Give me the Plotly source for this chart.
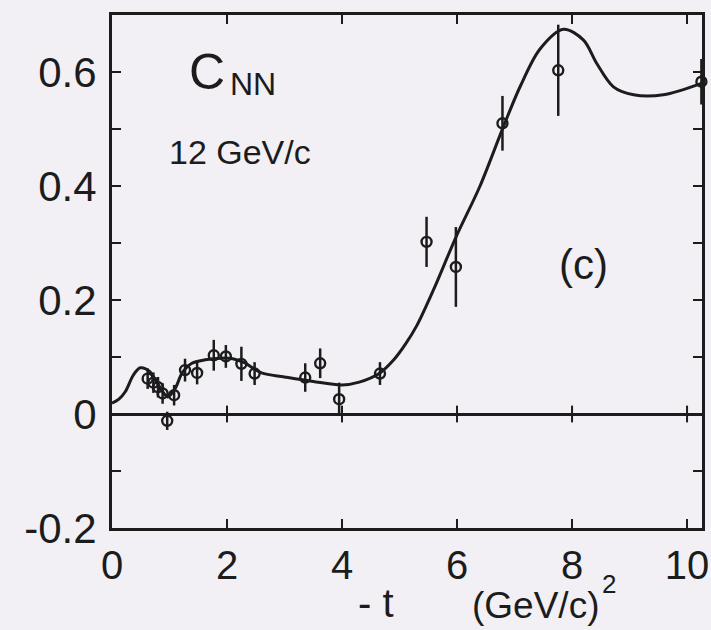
import plotly.graph_objects as go

# ---- data ----
t_data = [0.62, 0.72, 0.80, 0.88, 0.96, 1.08, 1.27, 1.48, 1.77, 1.98, 2.25, 2.48,
          3.36, 3.62, 3.95, 4.66, 5.47, 5.98, 6.79, 7.76, 10.25]
cnn_data = [0.062, 0.055, 0.047, 0.036, -0.012, 0.033, 0.077, 0.072, 0.103, 0.101, 0.088, 0.071,
            0.064, 0.089, 0.026, 0.071, 0.302, 0.258, 0.510, 0.603, 0.583]
cnn_err = [0.018, 0.018, 0.018, 0.018, 0.016, 0.018, 0.02, 0.02, 0.027, 0.02, 0.03, 0.02,
           0.025, 0.026, 0.029, 0.02, 0.044, 0.07, 0.048, 0.08, 0.04]

t_curve = [0.0, 0.12, 0.23, 0.37, 0.49, 0.65, 0.8, 0.97, 1.1, 1.22, 1.39, 1.62, 1.9, 2.1,
           2.3, 2.6, 3.0, 3.5, 4.0, 4.3, 4.66, 4.9, 5.1, 5.3, 5.6, 5.98, 6.4, 6.81, 7.1,
           7.44, 7.85, 8.2, 8.43, 8.72, 9.07, 9.59, 10.25]
cnn_curve = [0.019, 0.026, 0.039, 0.068, 0.081, 0.075, 0.052, 0.030, 0.045, 0.072, 0.089, 0.095,
             0.098, 0.097, 0.090, 0.072, 0.065, 0.057, 0.051, 0.056, 0.072, 0.095, 0.122, 0.155,
             0.220, 0.310, 0.400, 0.505, 0.575, 0.640, 0.675, 0.656, 0.615, 0.574, 0.560,
             0.560, 0.580]

y_tickvals = [-0.2, 0, 0.2, 0.4, 0.6]
y_ticktext = ["-0.2", "0", "0.2", "0.4", "0.6"]
x_tickvals = [0, 2, 4, 6, 8, 10]
x_ticktext = ["0", "2", "4", "6", "8", "10"]
zero_line_ticks = [2, 4, 6, 8, 10]

INK = "#1c1c1c"
BG = "#f2f0f5"
FONT = "Liberation Sans, Arial, sans-serif"

fig = go.Figure()
fig.add_trace(go.Scatter(
    x=t_curve, y=cnn_curve, mode="lines",
    line=dict(color=INK, width=3, shape="spline", smoothing=0.9),
    hoverinfo="skip", showlegend=False))
# small cross ticks on the zero line
fig.add_trace(go.Scatter(
    x=zero_line_ticks, y=[0] * len(zero_line_ticks), mode="markers",
    marker=dict(symbol="line-ns", size=12, line=dict(width=2, color=INK)),
    hoverinfo="skip", showlegend=False))
fig.add_trace(go.Scatter(
    x=t_data, y=cnn_data, mode="markers",
    marker=dict(symbol="circle-open", size=10, color=INK, line=dict(width=2.4, color=INK)),
    error_y=dict(type="data", array=cnn_err, visible=True, color=INK, thickness=2.5, width=0),
    cliponaxis=False, showlegend=False))

fig.update_layout(
    width=711, height=630,
    margin=dict(l=112, r=9, t=15, b=102, autoexpand=False),
    paper_bgcolor=BG, plot_bgcolor=BG,
    font=dict(family=FONT, size=42, color=INK),
    showlegend=False,
)
fig.update_xaxes(
    range=[0, 10.26], showgrid=False, zeroline=False, automargin=False,
    showline=True, linewidth=3, linecolor=INK, mirror="ticks",
    ticks="inside", ticklen=9, tickwidth=2, tickcolor=INK,
    tickvals=x_tickvals, ticktext=x_ticktext, ticklabelstandoff=0,
    tickfont=dict(size=40),
)
fig.update_yaxes(
    range=[-0.2, 0.7], showgrid=False, automargin=False,
    zeroline=True, zerolinewidth=3, zerolinecolor=INK,
    showline=True, linewidth=3, linecolor=INK, mirror="ticks",
    ticks="inside", ticklen=9, tickwidth=2, tickcolor=INK,
    tickvals=y_tickvals, ticktext=y_ticktext, ticklabelstandoff=4,
    minor=dict(dtick=0.1, tick0=0, ticks="inside", ticklen=9, tickwidth=2, tickcolor=INK, showgrid=False),
)

def pax(px):
    return (px - 112) / 590.0

def pay(py):
    return (528 - py) / 513.0

ann = [
    ("C", 207, 72, 50),
    ("NN", 253, 84, 32),
    ("12 GeV/c", 240, 152, 34),
    ("(c)", 583, 264, 42),
    ("- t", 376, 603, 40),
    ("(GeV/c)", 535, 606, 37),
    ("2", 609, 584, 26),
]
for text, px, py, size in ann:
    fig.add_annotation(text=text, x=pax(px), y=pay(py), xref="paper", yref="paper",
                       xanchor="center", yanchor="middle", showarrow=False,
                       font=dict(family=FONT, size=size, color=INK))

fig.write_html(
    "out.html",
    config={"displayModeBar": False},
    post_script="document.body.style.margin='0';document.body.style.background='" + BG + "';",
)
